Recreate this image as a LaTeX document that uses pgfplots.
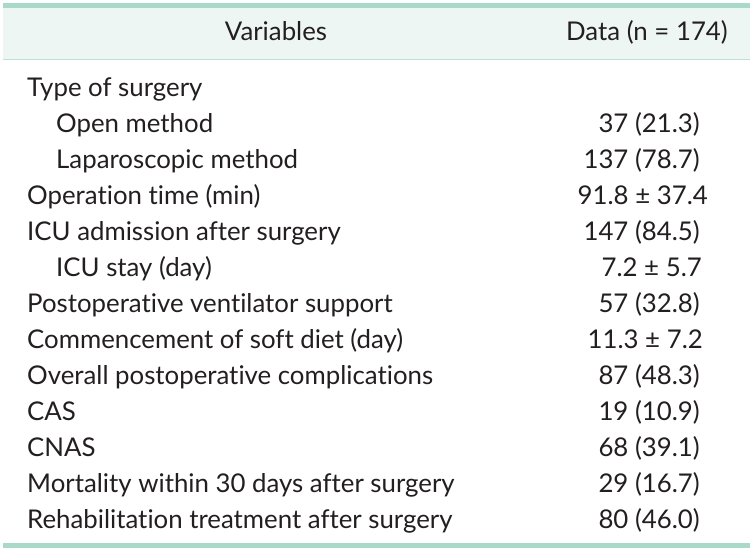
\documentclass[border=0pt]{standalone}
\usepackage{pgfplots}
\pgfplotsset{compat=1.18}
\usepackage{fontspec}
\setmainfont{Lato}[Ligatures=NoCommon, Numbers=Monospaced]
\definecolor{rulec}{HTML}{A8D9C9}
\definecolor{headbg}{HTML}{EEF6F3}
\definecolor{thinc}{HTML}{BEE0D5}
\definecolor{txt}{HTML}{231F20}
\newcommand{\tf}{\fontsize{25.8}{30}\selectfont}
\tikzset{
  cell/.style={font=\tf, text=txt, inner sep=0pt},
  lbl/.style={cell, anchor=base west},
  val/.style={cell, anchor=base east},
  hdr/.style={cell, anchor=base}}
\begin{document}
\begin{tikzpicture}
\begin{axis}[
  width=752pt, height=551pt, scale only axis,
  xmin=0, xmax=752, ymin=0, ymax=551, y dir=reverse,
  hide axis, clip=false,
]
\path[fill=white] (axis cs:0,0) rectangle (axis cs:752,551);
\path[fill=headbg] (axis cs:3,8) rectangle (axis cs:750,59);
\path[fill=rulec] (axis cs:3,3) rectangle (axis cs:750,8);
\path[fill=thinc] (axis cs:3,58.7) rectangle (axis cs:750,60);
\path[fill=rulec] (axis cs:3,542.5) rectangle (axis cs:750,548);
% header
\node[hdr] at (axis cs:276,41) {Variables};
\node[val] at (axis cs:728,41) {Data (n = 174)};
% rows
\node[lbl] at (axis cs:27,96) {Type of surgery};
\node[lbl] at (axis cs:56,132) {Open method};
\node[val] at (axis cs:700,132) {37 (21.3)};
\node[lbl] at (axis cs:56,168) {Laparoscopic method};
\node[val] at (axis cs:700,168) {137 (78.7)};
\node[lbl] at (axis cs:27,204) {Operation time (min)};
\node[val] at (axis cs:708,204) {91.8 ± 37.4};
\node[lbl] at (axis cs:27,240) {ICU admission after surgery};
\node[val] at (axis cs:700,240) {147 (84.5)};
\node[lbl] at (axis cs:56,276) {ICU stay (day)};
\node[val] at (axis cs:702,276) {7.2 ± 5.7};
\node[lbl] at (axis cs:27,312) {Postoperative ventilator support};
\node[val] at (axis cs:700,312) {57 (32.8)};
\node[lbl] at (axis cs:27,348) {Commencement of soft diet (day)};
\node[val] at (axis cs:703,348) {11.3 ± 7.2};
\node[lbl] at (axis cs:27,384) {Overall postoperative complications};
\node[val] at (axis cs:700,384) {87 (48.3)};
\node[lbl] at (axis cs:27,420) {CAS};
\node[val] at (axis cs:700,420) {19 (10.9)};
\node[lbl] at (axis cs:27,456) {CNAS};
\node[val] at (axis cs:700,456) {68 (39.1)};
\node[lbl] at (axis cs:27,492) {Mortality within 30 days after surgery};
\node[val] at (axis cs:700,492) {29 (16.7)};
\node[lbl] at (axis cs:27,528) {Rehabilitation treatment after surgery};
\node[val] at (axis cs:700,528) {80 (46.0)};
\end{axis}
\end{tikzpicture}
\end{document}
